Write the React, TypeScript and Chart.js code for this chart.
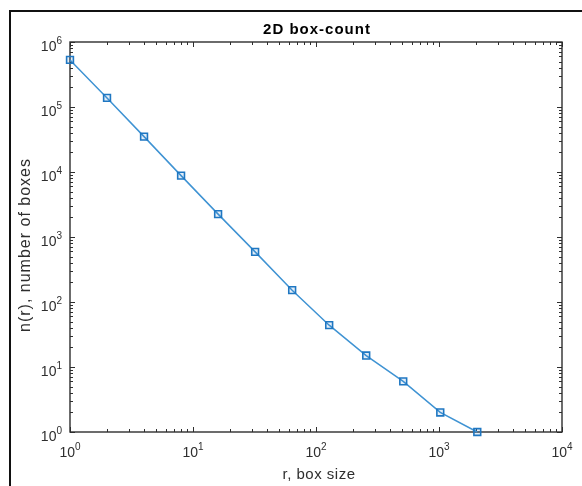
import React, { useEffect, useRef } from "react";
import { Chart, registerables } from "chart.js";

Chart.register(...registerables);

// ---- data ----
const boxSizes = [1, 2, 4, 8, 16, 32, 64, 128, 256, 512, 1024, 2048];
const boxCounts = [530000, 138000, 35000, 8800, 2250, 590, 152, 44, 15, 6, 2, 1];
const xDecades = [0, 1, 2, 3, 4];
const yDecades = [0, 1, 2, 3, 4, 5, 6];
const titleText = "2D box-count";
const xLabelText = "r, box size";
const yLabelText = "n(r), number of boxes";

const FONT = '"Liberation Sans", Arial, Helvetica, sans-serif';
const AXIS_COLOR = "#2e2e2e";

function setSpacing(ctx: any, v: string) {
  try {
    ctx.letterSpacing = v;
  } catch (e) {
    /* ignore */
  }
}

function drawPow(ctx: CanvasRenderingContext2D, exp: number, x: number, y: number, mode: "center" | "right") {
  ctx.font = `14px ${FONT}`;
  const baseW = ctx.measureText("10").width;
  ctx.font = `10px ${FONT}`;
  const expW = ctx.measureText(String(exp)).width;
  const total = baseW + expW;
  const start = mode === "center" ? x - total / 2 : x - total;
  ctx.textAlign = "left";
  ctx.textBaseline = "alphabetic";
  ctx.font = `14px ${FONT}`;
  ctx.fillText("10", start, y);
  ctx.font = `10px ${FONT}`;
  ctx.fillText(String(exp), start + baseW, y - 7);
}

const axesPlugin = {
  id: "matlabAxes",
  beforeDatasetsDraw(chart: any) {
    const { ctx, chartArea: a, scales } = chart;
    const xs = scales.x;
    const ys = scales.y;
    ctx.save();
    ctx.strokeStyle = AXIS_COLOR;
    ctx.lineWidth = 1;
    const major = 5;
    const minor = 3;
    const tick = (x1: number, y1: number, x2: number, y2: number) => {
      ctx.beginPath();
      ctx.moveTo(x1, y1);
      ctx.lineTo(x2, y2);
      ctx.stroke();
    };
    // x ticks
    xDecades.forEach((d, i) => {
      const px = Math.round(xs.getPixelForValue(Math.pow(10, d))) + 0.5;
      tick(px, a.bottom, px, a.bottom - major);
      tick(px, a.top, px, a.top + major);
      if (i < xDecades.length - 1) {
        for (let k = 2; k <= 9; k++) {
          const mx = Math.round(xs.getPixelForValue(k * Math.pow(10, d))) + 0.5;
          tick(mx, a.bottom, mx, a.bottom - minor);
          tick(mx, a.top, mx, a.top + minor);
        }
      }
    });
    // y ticks
    yDecades.forEach((d, i) => {
      const py = Math.round(ys.getPixelForValue(Math.pow(10, d))) + 0.5;
      tick(a.left, py, a.left + major, py);
      tick(a.right, py, a.right - major, py);
      if (i < yDecades.length - 1) {
        for (let k = 2; k <= 9; k++) {
          const my = Math.round(ys.getPixelForValue(k * Math.pow(10, d))) + 0.5;
          tick(a.left, my, a.left + minor, my);
          tick(a.right, my, a.right - minor, my);
        }
      }
    });
    // box
    ctx.lineWidth = 1.4;
    ctx.strokeRect(a.left, a.top, a.right - a.left, a.bottom - a.top);

    // tick labels
    ctx.fillStyle = AXIS_COLOR;
    xDecades.forEach((d) => {
      const px = xs.getPixelForValue(Math.pow(10, d));
      drawPow(ctx, d, px, a.bottom + 25, "center");
    });
    yDecades.forEach((d) => {
      const py = ys.getPixelForValue(Math.pow(10, d));
      drawPow(ctx, d, a.left - 8, py + 9, "right");
    });

    // title
    ctx.fillStyle = "#000";
    ctx.font = `bold 15px ${FONT}`;
    setSpacing(ctx, "1px");
    ctx.textAlign = "center";
    ctx.textBaseline = "alphabetic";
    ctx.fillText(titleText, (a.left + a.right) / 2 + 1, 34);

    // axis titles
    ctx.fillStyle = AXIS_COLOR;
    ctx.font = `15px ${FONT}`;
    setSpacing(ctx, "0.5px");
    ctx.fillText(xLabelText, (a.left + a.right) / 2 + 3, 479);
    ctx.save();
    ctx.font = `16px ${FONT}`;
    setSpacing(ctx, "1px");
    ctx.translate(30, 245);
    ctx.rotate(-Math.PI / 2);
    ctx.fillText(yLabelText, 0, 0);
    ctx.restore();
    setSpacing(ctx, "0px");

    ctx.restore();
  },
};

export default function App() {
  const canvasRef = useRef<HTMLCanvasElement | null>(null);

  useEffect(() => {
    const canvas = canvasRef.current;
    if (!canvas) return;
    const chart = new Chart(canvas, {
      type: "line",
      data: {
        datasets: [
          {
            data: boxSizes.map((x, i) => ({ x, y: boxCounts[i] })),
            borderColor: "#3f93d3",
            borderWidth: 1.5,
            pointStyle: "rect",
            pointRadius: 4.8,
            pointBorderWidth: 1.6,
            pointBorderColor: "#1f77c2",
            pointBackgroundColor: "rgba(31,119,194,0.12)",
            tension: 0,
            clip: false,
          } as any,
        ],
      },
      options: {
        responsive: false,
        animation: false,
        devicePixelRatio: 1,
        layout: { padding: { left: 70, top: 42, right: 20, bottom: 54 } },
        plugins: {
          legend: { display: false },
          title: { display: false },
          tooltip: { enabled: false },
        },
        scales: {
          x: { type: "logarithmic", min: 1, max: 10000, display: false },
          y: { type: "logarithmic", min: 1, max: 1000000, display: false },
        },
      },
      plugins: [axesPlugin],
    });
    return () => chart.destroy();
  }, []);

  return (
    <div
      style={{
        position: "fixed",
        left: 0,
        top: 0,
        width: 582,
        height: 486,
        background: "#fff",
        overflow: "hidden",
      }}
    >
      <div
        style={{
          position: "absolute",
          left: 9,
          top: 10,
          width: 700,
          height: 700,
          borderTop: "2px solid #111",
          borderLeft: "2px solid #111",
        }}
      />
      <canvas
        ref={canvasRef}
        width={582}
        height={486}
        style={{ position: "absolute", left: 0, top: 0, width: 582, height: 486 }}
      />
    </div>
  );
}
